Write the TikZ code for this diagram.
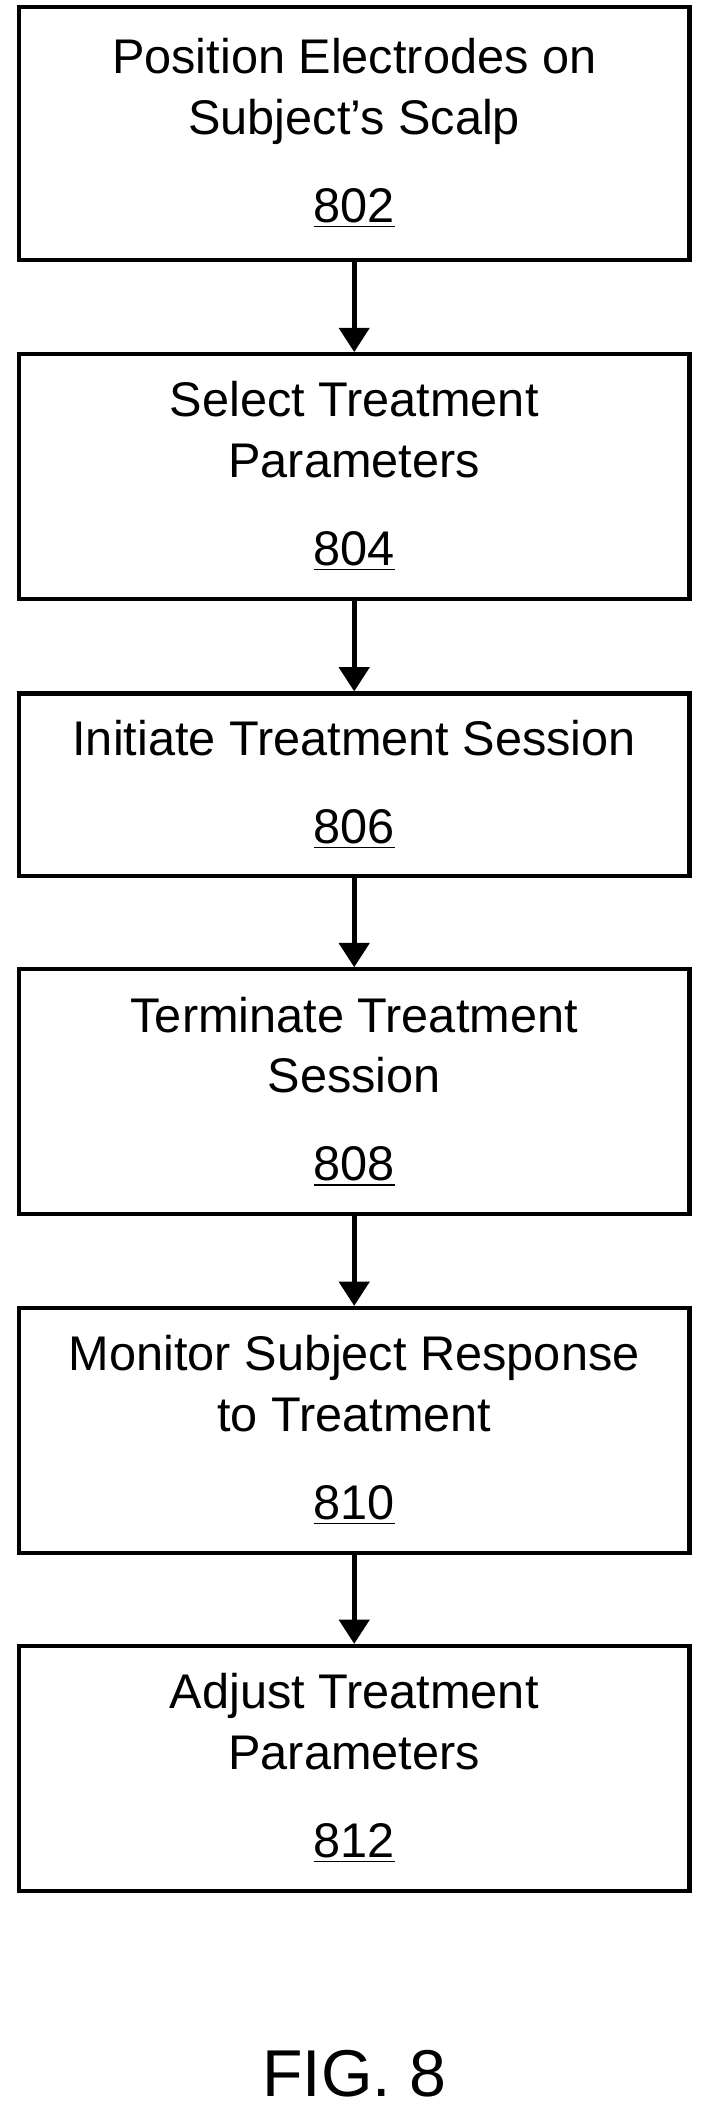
\documentclass[tikz,border=0pt]{standalone}
\usepackage{fontspec}
\setmainfont{Liberation Sans}
\usetikzlibrary{arrows.meta}
\tikzset{
stepbox/.style={draw, line width=1.5pt, minimum width=248pt, align=center, inner sep=0pt,
  font=\fontsize{18}{22.5}\selectfont},
flow/.style={line width=2pt, -{Triangle[width=11pt,length=9pt]}}}
\begin{document}
\begin{tikzpicture}[x=0.5pt,y=0.5pt]
    \useasboundingbox (0,0) rectangle (525,1560);

                \node[stepbox, minimum height=93.5pt] (P1) at (262,1461.5) {Position Electrodes on\\Subject’s Scalp\\[10pt]\underline{802}};
                \node[stepbox, minimum height=90.5pt] (P2) at (262,1207.5) {Select Treatment\\Parameters\\[10pt]\underline{804}};
                \node[stepbox, minimum height=67.5pt] (P3) at (262,979.5) {Initiate Treatment Session\\[10pt]\underline{806}};
                \node[stepbox, minimum height=90.5pt] (P4) at (262,752.5) {Terminate Treatment\\Session\\[10pt]\underline{808}};
                \node[stepbox, minimum height=90.5pt] (P5) at (262,502) {Monitor Subject Response\\to Treatment\\[10pt]\underline{810}};
                \node[stepbox, minimum height=90.5pt] (P6) at (262,252) {Adjust Treatment\\Parameters\\[10pt]\underline{812}};
                \node[font=\fontsize{24.5}{28}\selectfont] (fig) at (262,26) {FIG. 8};

                \draw[flow] (P1) -- (P2);
                \draw[flow] (P2) -- (P3);
                \draw[flow] (P3) -- (P4);
                \draw[flow] (P4) -- (P5);
                \draw[flow] (P5) -- (P6);

            \end{tikzpicture}
\end{document}
